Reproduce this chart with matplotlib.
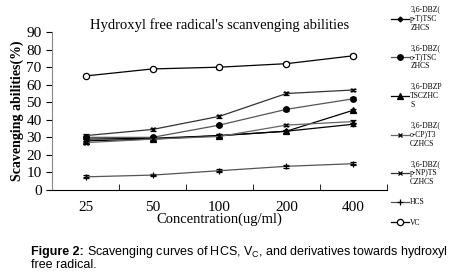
import matplotlib
matplotlib.use('Agg')
import matplotlib.pyplot as plt
from matplotlib.ticker import FixedLocator

concentrations = ['25', '50', '100', '200', '400']

p_t = [29.0, 29.5, 31.0, 33.5, 37.5]
o_t = [30.0, 30.0, 37.0, 46.0, 52.0]
p_tsc = [28.0, 29.0, 31.0, 33.5, 45.5]
o_cp = [27.0, 29.0, 30.5, 37.0, 39.0]
p_np = [31.0, 34.5, 42.0, 55.0, 57.0]
hcs = [7.5, 8.5, 11.0, 13.5, 15.0]
vc = [65.0, 69.0, 70.0, 72.0, 76.5]

err = [0.8, 0.8, 0.8, 0.8, 0.8]

labels = ['3,6-DBZ(\np-T)TSC\nZHCS', '3,6-DBZ(\no-T)TSC\nZHCS', '3,6-DBZP\nTSCZHC\nS',
          '3,6-DBZ(\no-CP)T3\nCZHCS', '3,6-DBZ(\np-NP)TS\nCZHCS', 'HCS', 'VC']

plt.rcParams['font.family'] = ['Liberation Serif', 'DejaVu Serif']

fig = plt.figure(figsize=(4.62, 2.79), dpi=100)
ax = fig.add_axes([0.1126, 0.319, 0.725, 0.566])

x = list(range(len(concentrations)))
series = [
    (p_t, 'D', 'black', 2.5),
    (o_t, 'o', 'black', 4),
    (p_tsc, '^', 'black', 4),
    (o_cp, 'x', 'black', 3.5),
    (p_np, 'x', 'black', 3.5),
    (hcs, '+', 'black', 4),
    (vc, 'o', 'white', 4.5),
]
colors = ['black', '#555555', 'black', '#666666', '#333333', '#555555', 'black']

handles = []
for (vals, mk, mfc, ms), c, lab in zip(series, colors, labels):
    h = ax.errorbar(x, vals, yerr=err, color=c, ecolor='black', elinewidth=0.8,
                    capsize=2, lw=0.9, marker=mk, mec='black', mfc=mfc, ms=ms,
                    mew=0.9, label=lab)
    handles.append(h[0])

ax.set_xlim(-0.5, 4.5)
ax.set_ylim(0, 90)
ax.set_yticks(range(0, 91, 10))
ax.set_xticks(x)
ax.set_xticklabels(concentrations)
ax.xaxis.set_minor_locator(FixedLocator([-0.5, 0.5, 1.5, 2.5, 3.5, 4.5]))
ax.tick_params(axis='x', which='major', length=0, pad=8, labelsize=11)
ax.tick_params(axis='x', which='minor', direction='in', length=4, color='black')
ax.tick_params(axis='y', direction='out', length=4, labelsize=11, color='black')

ax.spines['top'].set_visible(False)
ax.spines['right'].set_visible(False)
ax.spines['left'].set_color('#888888')
ax.spines['bottom'].set_color('black')

ax.set_xlabel('Concentration(ug/ml)', fontsize=10.5, labelpad=-1)
ax.set_ylabel('Scavenging abilities(%)', fontsize=10, fontweight='bold', labelpad=2)
ax.set_title("Hydroxyl free radical's scanvenging abilities", fontsize=10.5, pad=2)

fig.legend(handles=handles, labels=labels, loc='upper left',
           bbox_to_anchor=(0.835, 1.0), frameon=False, fontsize=5.5,
           handlelength=2.3, handletextpad=0.2, labelspacing=1.6,
           borderaxespad=0.3)

t1 = fig.text(0.067, 0.085, 'Figure 2:', fontsize=9, family='Liberation Sans',
              fontweight='bold')
fig.canvas.draw()
bb = t1.get_window_extent()
fig.text(bb.x1 + 3, 0.085 * fig.bbox.height,
         'Scavenging curves of HCS, V$_\\mathregular{C}$, and derivatives towards hydroxyl',
         fontsize=9, family='Liberation Sans', transform=None)
fig.text(0.067, 0.04, 'free radical.', fontsize=9, family='Liberation Sans')

fig.savefig('out.png', dpi=100)
